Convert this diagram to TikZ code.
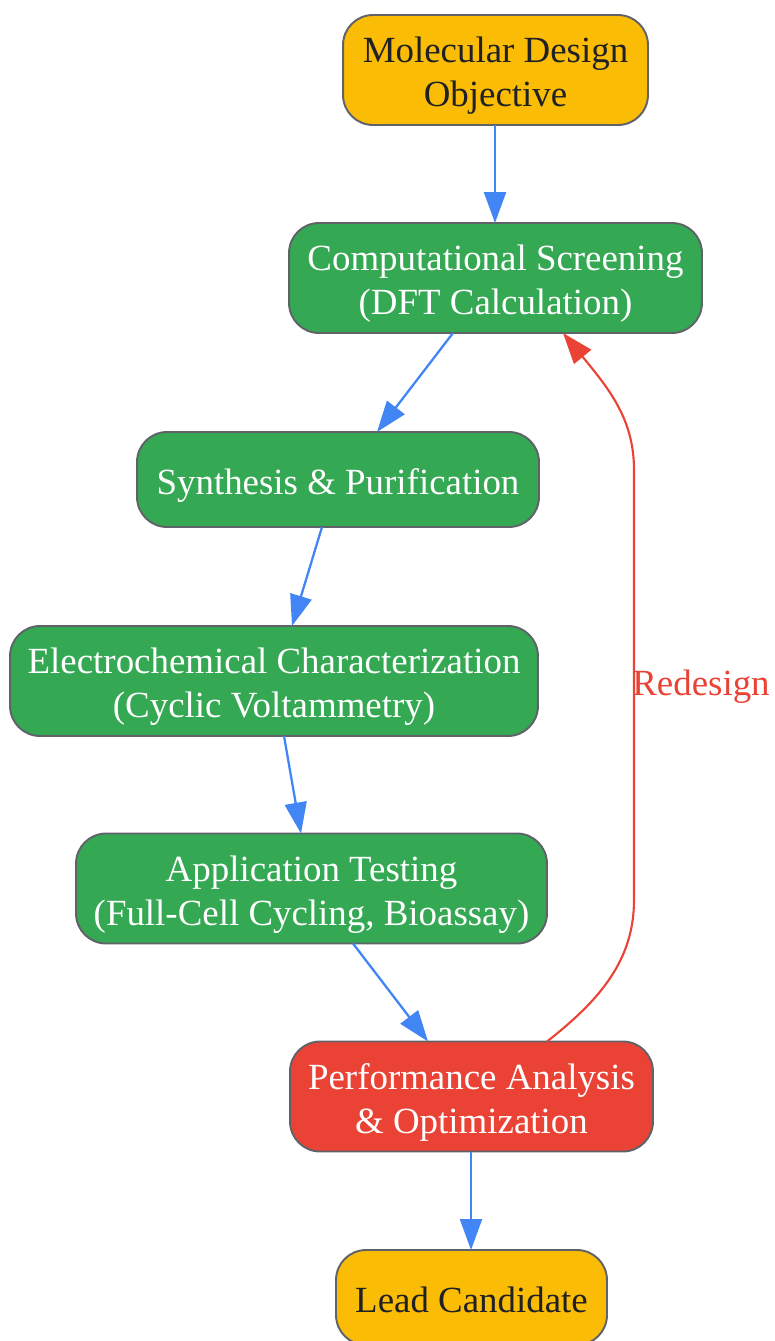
\documentclass[tikz,border=0pt]{standalone}
\usepackage{fontspec}
\setmainfont{Liberation Serif}
\usetikzlibrary{positioning, arrows.meta}

\definecolor{stageYellow}{HTML}{FBBC05}
\definecolor{stageGreen}{HTML}{34A853}
\definecolor{stageRed}{HTML}{EA4335}
\definecolor{flowBlue}{HTML}{4285F4}
\definecolor{boxBorder}{HTML}{5F6368}
\definecolor{darkText}{HTML}{202124}

% invisible strut so every first line sits at the same height
\newcommand{\vpad}{\rule[-0.17cm]{0pt}{0.92cm}}

\tikzset{
    stage/.style={draw=boxBorder, line width=1.1pt, rounded corners=0.6cm, align=center,
        inner sep=0pt, outer sep=0pt, font=\fontsize{21}{25}\selectfont, minimum height=2.2cm},
    endstage/.style={stage, fill=stageYellow, text=darkText},
    workstage/.style={stage, fill=stageGreen, text=white},
    checkstage/.style={stage, fill=stageRed, text=white},
    flow/.style={draw=flowBlue, line width=1.3pt, -{Triangle[length=0.62cm, width=0.44cm]}},
    loopback/.style={draw=stageRed, line width=1.2pt, -{Triangle[length=0.62cm, width=0.44cm]}}
}

\begin{document}
\begin{tikzpicture}[x=0.02cm, y=-0.02cm]
        % Fix the page to the reference size
        \useasboundingbox (0,0) rectangle (774,1341);

        %%% Stages of the workflow
            \node[endstage, minimum width=6.1cm] (objective) at (495.5,70) {\vpad Molecular Design\\Objective};
            \node[workstage, minimum width=8.26cm] (screening) at (495.5,278) {\vpad Computational Screening\\(DFT Calculation)};
            \node[workstage, minimum width=8.04cm, minimum height=1.9cm] (synthesis) at (338,479.5) {\vpad Synthesis \& Purification};
            \node[workstage, minimum width=10.56cm] (electrochem) at (274,681) {\vpad Electrochemical Characterization\\(Cyclic Voltammetry)};
            \node[workstage, minimum width=9.42cm] (testing) at (311.5,888.5) {\vpad Application Testing\\(Full-Cell Cycling, Bioassay)};
            \node[checkstage, minimum width=7.26cm] (analysis) at (471.5,1096.5) {\vpad Performance Analysis\\\& Optimization};
            \node[endstage, minimum width=5.42cm, minimum height=1.9cm] (candidate) at (471.5,1297.5) {\vpad Lead Candidate};

        %%% Forward connectors
            \draw[flow] ([xshift=-0.01cm]objective.south) -- ([xshift=-0.01cm]screening.north);
            \draw[flow] ([xshift=-0.85cm]screening.south) -- ([xshift=0.78cm]synthesis.north);
            \draw[flow] ([xshift=-0.32cm]synthesis.south) -- ([xshift=0.36cm]electrochem.north);
            \draw[flow] ([xshift=0.2cm]electrochem.south) -- ([xshift=-0.21cm]testing.north);
            \draw[flow] ([xshift=0.83cm]testing.south) -- ([xshift=-0.87cm]analysis.north);
            \draw[flow] ([xshift=-0.01cm]analysis.south) -- ([xshift=-0.01cm]candidate.north);

        %%% Feedback loop
            \coordinate (loopStart) at ([xshift=1.51cm]analysis.north);
            \coordinate (loopEnd) at ([xshift=1.35cm]screening.south);
            \draw[loopback] (loopStart) .. controls (600,1000) and (634,960) .. (634,900)
                -- (634,470) .. controls (634,420) and (610,390) .. (loopEnd);
            \node[text=stageRed, font=\fontsize{21}{25}\selectfont] (redesignLabel) at (701,687) {Redesign};
\end{tikzpicture}
\end{document}
